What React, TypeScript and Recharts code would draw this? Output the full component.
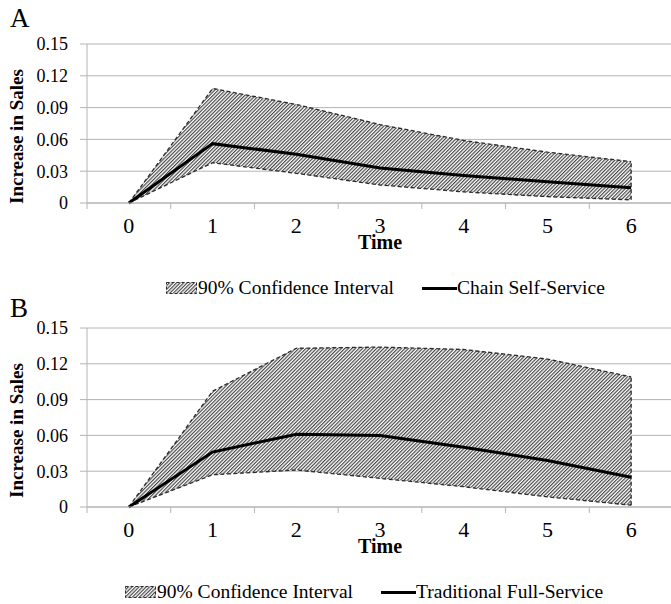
import { Area, CartesianGrid, ComposedChart, Line, ReferenceLine, XAxis, YAxis } from "recharts";

// Impulse responses of sales (A: chain self-service, B: traditional full-service).
const times = ["0", "1", "2", "3", "4", "5", "6"];
const yTicks = [0, 0.03, 0.06, 0.09, 0.12, 0.15];

const chainMean = [0, 0.056, 0.046, 0.033, 0.026, 0.02, 0.0145];
const chainUpper = [0, 0.108, 0.093, 0.074, 0.059, 0.048, 0.039];
const chainLower = [0, 0.038, 0.028, 0.017, 0.0105, 0.006, 0.003];

const tradMean = [0, 0.046, 0.061, 0.06, 0.05, 0.039, 0.025];
const tradUpper = [0, 0.097, 0.133, 0.134, 0.132, 0.124, 0.109];
const tradLower = [0, 0.027, 0.031, 0.024, 0.017, 0.0085, 0.0015];

const CHART_W = 673;
const Y_W = 87;
const X_H = 52;
const BAND = (CHART_W - Y_W) / times.length;
const SERIF = "Liberation Serif, Times New Roman, serif";
const GRID = "#b4b4b4";
const EDGE = "#2a2a2a";

function HatchPattern({ id }: { id: string }) {
  return (
    <pattern id={id} patternUnits="userSpaceOnUse" width={2.5} height={8} patternTransform="rotate(45)">
      <rect width={2.5} height={8} fill="#fff" />
      <line x1={0.6} y1={0} x2={0.6} y2={8} stroke="#3a3a3a" strokeWidth={1.1} />
    </pattern>
  );
}

// Excel-style category tick: label at the band centre, tick mark on the band's left edge.
function TimeTick(props: any) {
  const { x, y, payload } = props;
  const edge = x - BAND / 2;
  return (
    <g>
      <line x1={edge} y1={y} x2={edge} y2={y + 6} stroke={GRID} />
      <text x={x} y={y + 30} textAnchor="middle" fontFamily={SERIF} fontSize={22} fill="#000">
        {payload.value}
      </text>
    </g>
  );
}

function TimeLabel(props: any) {
  const { viewBox } = props;
  return (
    <text
      x={viewBox.x + viewBox.width / 2}
      y={viewBox.y + 46}
      textAnchor="middle"
      fontFamily={SERIF}
      fontWeight="bold"
      fontSize={20}
      fill="#000"
    >
      Time
    </text>
  );
}

function SalesLabel(props: any) {
  const { viewBox } = props;
  const cx = 23;
  const cy = viewBox.y + viewBox.height / 2 + 13;
  return (
    <text
      x={cx}
      y={cy}
      transform={`rotate(-90 ${cx} ${cy})`}
      textAnchor="middle"
      fontFamily={SERIF}
      fontWeight="bold"
      fontSize={19}
      fill="#000"
    >
      Increase in Sales
    </text>
  );
}

function ImpulsePanel({
  id,
  mean,
  upper,
  lower,
  top,
  marginTop,
  height,
}: {
  id: string;
  mean: number[];
  upper: number[];
  lower: number[];
  top: number;
  marginTop: number;
  height: number;
}) {
  const data = times.map((time, i) => ({ time, mean: mean[i], band: [lower[i], upper[i]] }));
  const last = times.length - 1;

  return (
    <div style={{ position: "absolute", left: 0, top }}>
      <ComposedChart
        width={CHART_W}
        height={height}
        data={data}
        margin={{ top: marginTop, right: 0, bottom: 0, left: 0 }}
        accessibilityLayer={false}
      >
        <defs>
          <HatchPattern id={`hatch-${id}`} />
        </defs>
        <CartesianGrid vertical={false} stroke={GRID} />
        <XAxis
          dataKey="time"
          scale="band"
          height={X_H}
          interval={0}
          axisLine={{ stroke: GRID }}
          tickLine={false}
          tickSize={0}
          tickMargin={0}
          tick={<TimeTick />}
          label={<TimeLabel />}
        />
        <YAxis
          width={Y_W}
          domain={[0, 0.15]}
          ticks={yTicks}
          interval={0}
          axisLine={{ stroke: GRID }}
          tickLine={{ stroke: GRID }}
          tickSize={7}
          tickMargin={12}
          tick={{ fontSize: 18, fill: "#000", fontFamily: SERIF }}
          tickFormatter={(v: number) => (v === 0 ? "0" : v.toFixed(2))}
          label={<SalesLabel />}
        />
        <Area
          type="linear"
          dataKey="band"
          stroke={EDGE}
          strokeWidth={1.3}
          strokeDasharray="4 2.5"
          fill={`url(#hatch-${id})`}
          fillOpacity={1}
          dot={false}
          activeDot={false}
          isAnimationActive={false}
        />
        <ReferenceLine
          segment={[
            { x: times[last], y: lower[last] },
            { x: times[last], y: upper[last] },
          ]}
          stroke={EDGE}
          strokeWidth={1.3}
          strokeDasharray="4 2.5"
        />
        <Line
          type="linear"
          dataKey="mean"
          stroke="#000"
          strokeWidth={3}
          dot={false}
          activeDot={false}
          isAnimationActive={false}
        />
      </ComposedChart>
    </div>
  );
}

function PanelLegend({ id, left, top, label }: { id: string; left: number; top: number; label: string }) {
  return (
    <div
      style={{
        position: "absolute",
        left,
        top,
        display: "flex",
        alignItems: "center",
        fontFamily: SERIF,
        fontSize: 19.5,
        lineHeight: "20px",
        whiteSpace: "nowrap",
        color: "#000",
      }}
    >
      <svg width={31} height={12} style={{ marginRight: 1 }}>
        <defs>
          <HatchPattern id={`legend-hatch-${id}`} />
        </defs>
        <rect x={0.5} y={0.5} width={30} height={11} fill={`url(#legend-hatch-${id})`} stroke={EDGE} strokeDasharray="3 2" />
      </svg>
      <span>90% Confidence Interval</span>
      <span style={{ display: "inline-block", width: 35, height: 3, background: "#000", marginLeft: 28 }} />
      <span>{label}</span>
    </div>
  );
}

function PanelTag({ top, text }: { top: number; text: string }) {
  return (
    <div style={{ position: "absolute", left: 10, top, fontFamily: SERIF, fontSize: 27, lineHeight: "27px" }}>
      {text}
    </div>
  );
}

export default function App() {
  return (
    <div style={{ position: "absolute", left: 0, top: 0, width: 671, height: 604, overflow: "hidden", background: "#fff" }}>
      <PanelTag top={5} text="A" />
      <ImpulsePanel id="A" mean={chainMean} upper={chainUpper} lower={chainLower} top={0} marginTop={44} height={203 + X_H} />
      <PanelLegend id="A" left={166} top={278} label="Chain Self-Service" />

      <PanelTag top={295} text="B" />
      <ImpulsePanel id="B" mean={tradMean} upper={tradUpper} lower={tradLower} top={300} marginTop={28} height={207 + X_H} />
      <PanelLegend id="B" left={125} top={582} label="Traditional Full-Service" />
    </div>
  );
}
